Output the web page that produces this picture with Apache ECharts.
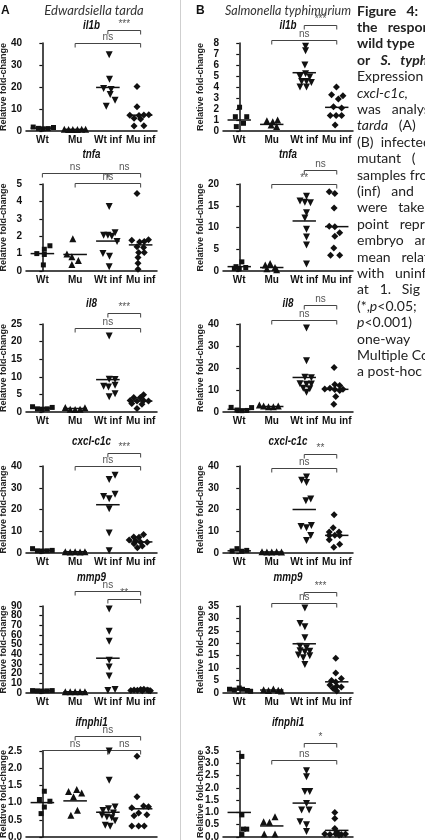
<!DOCTYPE html>
<html>
<head>
<meta charset="utf-8">
<script src="https://cdn.jsdelivr.net/npm/echarts@6/dist/echarts.min.js"></script>
<style>
  html, body { margin: 0; padding: 0; background: #fff; overflow: hidden; }
  #main { width: 425px; height: 840px; }
</style>
</head>
<body>
<div id="main"></div>
<script>
var groups = ['Wt', 'Mu', 'Wt inf', 'Mu inf'];
var genes = ['il1b', 'tnfa', 'il8', 'cxcl-c1c', 'mmp9', 'ifnphi1'];

// each point: [horizontal jitter from group centre, relative fold-change]
// column A - Edwardsiella tarda
var tardaIl1b = [
  [[-0.28, 1.8], [-0.12, 1.2], [0.03, 1.0], [0.18, 1.1], [0.34, 1.6]],
  [[-0.33, 0.8], [-0.2, 0.7], [-0.07, 0.7], [0.07, 0.7], [0.2, 0.8], [0.32, 0.8]],
  [[0.04, 34.7], [0.05, 23.5], [-0.13, 19.3], [0.1, 18.9], [0.07, 16.6], [0.22, 14], [-0.05, 11.3]],
  [[-0.11, 20.2], [-0.11, 11], [-0.33, 7.2], [-0.05, 7.0], [0.1, 7.3], [0.25, 7.4], [-0.2, 5.8], [0.0, 5.5], [-0.2, 2.3], [0.1, 2.4]]
];
var tardaTnfa = [
  [[0.23, 1.45], [0.06, 1.25], [-0.17, 1.0], [0.06, 0.95], [0.03, 0.35]],
  [[-0.07, 1.86], [-0.25, 0.97], [-0.1, 0.82], [0.1, 0.6], [-0.1, 0.38]],
  [[0.04, 3.7], [-0.13, 2.05], [0, 2.05], [0.12, 2.0], [0.22, 2.2], [0.28, 1.7], [-0.15, 1.0], [0.05, 0.85], [0.04, 0.25]],
  [[-0.11, 4.45], [-0.27, 1.77], [-0.03, 1.67], [0.11, 1.7], [0.24, 1.8], [-0.11, 1.4], [0.09, 1.35], [-0.06, 1.06], [0.11, 1.06], [-0.08, 0.78], [-0.08, 0.44], [-0.08, 0.1]]
];
var tardaIl8 = [
  [[-0.3, 1.5], [-0.15, 0.9], [0, 0.8], [0.15, 0.9], [0.3, 1.3]],
  [[-0.3, 1.3], [-0.15, 0.8], [0, 0.7], [0.15, 0.8], [0.3, 1.2]],
  [[0.04, 21.6], [0.04, 9.3], [0.22, 9.2], [-0.13, 7.3], [0.02, 7.1], [0.22, 7.6], [0.22, 5.2], [0.04, 4.3]],
  [[0.09, 4.9], [-0.21, 4.1], [-0.01, 4.1], [-0.32, 3.3], [-0.11, 3.1], [0.09, 3.3], [0.24, 3.1], [-0.27, 2.4], [0.04, 2.2], [-0.11, 1.0]]
];
var tardaCxcl = [
  [[-0.3, 2.0], [-0.15, 1.0], [0, 0.9], [0.15, 1.0], [0.3, 1.2]],
  [[-0.3, 0.6], [-0.15, 0.5], [0, 0.6], [0.15, 0.5], [0.3, 0.6]],
  [[0.22, 35.7], [0.04, 33.8], [-0.13, 26], [0.04, 25], [0.22, 27], [0.04, 20.3], [0.04, 9.2], [0.04, 1.0]],
  [[0.09, 8.5], [-0.21, 7.4], [-0.05, 7.2], [-0.35, 6.0], [-0.15, 5.6], [0, 4.9], [0.2, 5.0], [-0.2, 4.2], [0.05, 3.2], [-0.1, 2.4]]
];
var tardaMmp9 = [
  [[-0.3, 2.5], [-0.15, 2.2], [0, 2.0], [0.15, 2.2], [0.3, 2.5]],
  [[-0.3, 1.4], [-0.15, 1.2], [0, 1.3], [0.15, 1.2], [0.3, 1.4]],
  [[0.04, 87], [0.04, 64], [0.04, 53.5], [0.04, 34], [0.04, 27], [0.04, 17.5], [0.0, 2.5], [0.22, 3.5]],
  [[-0.3, 2.5], [-0.2, 3.2], [-0.1, 2.8], [0, 3.5], [0.05, 2.2], [0.1, 4], [0.2, 3.0], [0.25, 2.5], [0.3, 2.2]]
];
var tardaIfnphi1 = [
  [[0.06, 1.33], [-0.09, 1.09], [0.23, 1.04], [0.06, 0.87], [-0.04, 0.68]],
  [[-0.2, 1.32], [0.05, 1.38], [-0.05, 1.17], [0.2, 1.28], [0.07, 0.78], [-0.13, 0.63]],
  [[0.04, 2.5], [0.04, 1.65], [0.22, 0.87], [0.02, 0.82], [-0.15, 0.77], [0.17, 0.7], [-0.18, 0.63], [-0.03, 0.58], [0.12, 0.56], [0.22, 0.47], [-0.08, 0.34], [0.07, 0.31]],
  [[-0.11, 2.35], [-0.11, 1.17], [-0.27, 0.85], [0.09, 0.9], [0.24, 0.88], [-0.06, 0.7], [0.19, 0.65], [-0.2, 0.62], [-0.27, 0.32], [-0.06, 0.32], [0.11, 0.32]]
];

// column B - Salmonella typhimurium
var typhiIl1b = [
  [[0.01, 2.16], [-0.12, 1.3], [0.23, 1.3], [0.13, 0.7], [-0.09, 0.4]],
  [[-0.15, 0.94], [0.03, 0.85], [0.18, 1.0], [-0.02, 0.55], [0.15, 0.4]],
  [[0.04, 7.7], [0.04, 7.3], [0.02, 6.0], [0.04, 5.2], [-0.13, 4.95], [0.17, 4.9], [-0.08, 4.5], [0.07, 4.5], [0.22, 4.4], [-0.13, 4.0], [0.07, 4.0]],
  [[-0.01, 4.0], [-0.16, 3.3], [0.19, 3.2], [-0.1, 2.2], [0.15, 2.1], [-0.2, 1.4], [-0.02, 1.4], [0.15, 1.4], [-0.05, 0.55], [0.05, 2.9]]
];
var typhiTnfa = [
  [[0.08, 2.1], [-0.1, 1.0], [0.2, 0.8], [0.0, 0.5], [-0.15, 0.6]],
  [[-0.05, 1.75], [-0.2, 1.4], [0.1, 0.8], [-0.15, 0.5], [0.15, 0.3]],
  [[0.07, 17.2], [-0.13, 16.1], [0.02, 15.8], [0.19, 15.7], [0.07, 13.4], [0.02, 12.2], [0.07, 9.6], [0.07, 7.8], [0.07, 6.0], [0.07, 1.6]],
  [[-0.23, 18.2], [-0.06, 17.8], [-0.08, 14.5], [-0.23, 10.3], [-0.06, 10.2], [0.09, 8.8], [-0.06, 8.0], [-0.09, 5.3], [-0.19, 3.6], [0.09, 3.6]]
];
var typhiIl8 = [
  [[-0.25, 2.1], [-0.07, 0.9], [0.08, 0.6], [0.23, 0.7], [0.38, 2.0]],
  [[-0.38, 3.2], [-0.25, 2.7], [-0.1, 2.4], [0.05, 2.4], [0.2, 2.7]],
  [[0.07, 38.2], [0.07, 23.3], [0.02, 15.8], [0.22, 15.6], [-0.13, 12.8], [0.07, 12.6], [0.22, 12.7], [-0.03, 10.8], [0.17, 10.6], [0.07, 9.0]],
  [[-0.08, 20.2], [-0.06, 12.5], [0.09, 12], [-0.21, 10.8], [-0.37, 10.4], [0.19, 10.3], [-0.06, 10.2], [0.09, 9.8], [-0.03, 7.0], [-0.09, 3.5]]
];
var typhiCxcl = [
  [[-0.07, 2.0], [-0.22, 0.9], [0.08, 0.8], [0.23, 1.2]],
  [[-0.3, 0.6], [-0.15, 0.5], [0, 0.5], [0.15, 0.6], [0.3, 0.5]],
  [[0.07, 35], [-0.08, 33.5], [0.07, 32.4], [0.05, 24], [0.2, 24.8], [-0.1, 12.2], [0.07, 11.6], [0.22, 12.6], [0.2, 8.1], [0.07, 5.8]],
  [[-0.08, 17.6], [-0.11, 11.6], [-0.23, 9.6], [0.07, 9.6], [-0.23, 8.1], [-0.06, 8.2], [0.09, 8.0], [-0.23, 6.1], [0.09, 4.0], [-0.09, 2.7]]
];
var typhiMmp9 = [
  [[-0.3, 1.5], [-0.15, 1.2], [0, 2.0], [0.1, 1.5], [0.25, 1.0], [0.35, 0.7]],
  [[-0.25, 1.3], [-0.1, 1.0], [0.05, 1.6], [0.2, 1.1], [0.3, 0.8]],
  [[0.02, 34.2], [-0.13, 28], [0.02, 26.7], [0.02, 22.2], [-0.13, 18.8], [0.07, 18.2], [-0.13, 17], [0.02, 16.5], [0.17, 16.8], [-0.18, 15.3], [-0.03, 14.2], [0.17, 15], [0.02, 11.5]],
  [[-0.03, 14], [-0.03, 8], [0.14, 5.8], [-0.16, 5], [-0.03, 4.4], [-0.21, 3.2], [0, 2.7], [0.14, 2.4], [-0.11, 1.8], [0, 0.8]]
];
var typhiIfnphi1 = [
  [[0.08, 3.28], [0.08, 0.9], [0.13, 0.32], [0.23, 0.32], [0.08, 0.1]],
  [[-0.25, 0.62], [-0.07, 0.6], [0.1, 0.82], [-0.23, 0.12], [0.1, 0.12]],
  [[0.07, 2.7], [0.07, 2.45], [0.02, 1.85], [0.17, 1.85], [0.07, 1.36], [-0.08, 1.1], [0.15, 1.1], [-0.13, 0.62], [0.07, 0.5], [0.07, 0.22]],
  [[-0.06, 1.0], [-0.06, 0.75], [-0.06, 0.35], [-0.37, 0.12], [-0.21, 0.1], [-0.03, 0.12], [0.14, 0.1], [0.27, 0.12], [0.0, 0.2], [0.07, 0.08]]
];

// group means (horizontal bars)
var tardaMeans = [[1.3, 0.75, 19.8, 7.2], [1.0, 0.95, 1.72, 1.5], [1.1, 1.0, 9.2, 3.1], [1.2, 0.6, 22.2, 5.1], [2.3, 1.3, 36, 3.0], [1.0, 1.05, 0.72, 0.82]];
var typhiMeans = [[1.0, 0.6, 5.3, 2.15], [1.0, 0.8, 11.5, 10.2], [1.2, 2.5, 15.7, 10.3], [1.0, 0.5, 20.0, 8.1], [1.2, 1.2, 19.8, 4.5], [1.0, 0.45, 1.38, 0.27]];

// y axis ranges
var tardaMax = [40, 5, 25, 40, 90, 2.5];
var tardaStep = [10, 1, 5, 10, 10, 0.5];
var typhiMax = [8, 20, 40, 40, 35, 3.5];
var typhiStep = [1, 5, 10, 10, 5, 0.5];

// significance brackets: [from group, to group, height (data units), label]
var tardaBrackets = [
  [[2, 3, 45.7, '***'], [1, 3, 40, 'ns']],
  [[0, 2, 5.65, 'ns'], [2, 3, 5.65, 'ns'], [1, 3, 5.03, 'ns']],
  [[2, 3, 28, '***'], [1, 3, 23.9, 'ns']],
  [[2, 3, 46.2, '***'], [1, 3, 40, 'ns']],
  [[1, 3, 105.6, 'ns'], [2, 3, 97, '**']],
  [[1, 3, 2.93, 'ns'], [0, 2, 2.52, 'ns'], [2, 3, 2.52, 'ns']]
];
var typhiBrackets = [
  [[2, 3, 9.67, '***'], [1, 3, 8.24, 'ns']],
  [[2, 3, 23.3, 'ns'], [1, 3, 20.07, '**']],
  [[2, 3, 48.8, 'ns'], [1, 3, 41.6, 'ns']],
  [[2, 3, 45.3, '**'], [1, 3, 39.2, 'ns']],
  [[2, 3, 40.6, '***'], [1, 3, 36.2, 'ns']],
  [[2, 3, 3.83, '*'], [1, 3, 3.12, 'ns']]
];

var captionLines = [
  '{b|Figure   4:}',
  '{b|the   respon}',
  '{b|wild type}',
  '{b|or   }{bi|S.   typh}',
  'Expression',
  '{i|cxcl-c1c,}',
  'was   analys',
  '{i|tarda}   (A)',
  '(B)  infected',
  'mutant   (',
  'samples fro',
  '(inf)   and',
  'were   taken',
  'point   repr',
  'embryo   an',
  'mean   relat',
  'with   uninf',
  'at   1.   Sig',
  '(*,{i|p}<0.05;',
  '{i|p}<0.001)',
  'one-way',
  'Multiple Co',
  'a post-hoc'
];

// ---- layout ----
var columns = [
  { left: 26, width: 131, points: [tardaIl1b, tardaTnfa, tardaIl8, tardaCxcl, tardaMmp9, tardaIfnphi1],
    means: tardaMeans, max: tardaMax, step: tardaStep, brackets: tardaBrackets },
  { left: 223, width: 130, points: [typhiIl1b, typhiTnfa, typhiIl8, typhiCxcl, typhiMmp9, typhiIfnphi1],
    means: typhiMeans, max: typhiMax, step: typhiStep, brackets: typhiBrackets }
];
var rowTop = [43, 184, 324, 466, 606, 751];
var rowBottom = [131, 271, 412, 553, 693, 837];
var titleY = [26, 155, 304, 442, 578, 723];

var symbols = [
  { symbol: 'rect', size: 5, rotate: 0 },
  { symbol: 'triangle', size: 7, rotate: 0 },
  { symbol: 'triangle', size: 7, rotate: 180 },
  { symbol: 'diamond', size: 7, rotate: 0 }
];
var ink = '#111';
var fam = '"Liberation Sans", Arial, sans-serif';
var tickFont = { color: ink, fontWeight: 'bold', fontSize: 10, fontFamily: fam };

function meanRenderer(params, api) {
  var i = api.value(0), m = api.value(1);
  var a = api.coord([i - 0.36, m]), b = api.coord([i + 0.36, m]);
  return { type: 'line', shape: { x1: a[0], y1: a[1], x2: b[0], y2: b[1] },
    style: { stroke: ink, lineWidth: 1.5 } };
}

function bracketRenderer(list) {
  return function (params, api) {
    var b = list[params.dataIndex];
    var p1 = api.coord([b[0], b[2]]), p2 = api.coord([b[1], b[2]]);
    var y = Math.round(p1[1]) + 0.5;
    return { type: 'group', children: [
      { type: 'polyline', shape: { points: [[p1[0], y + 4], [p1[0], y], [p2[0], y], [p2[0], y + 4]] },
        style: { stroke: '#444', lineWidth: 1, fill: null } },
      { type: 'text', x: (p1[0] + p2[0]) / 2, y: y - 1,
        style: { text: b[3], textAlign: 'center', textVerticalAlign: 'bottom',
          fill: '#555', font: '10px ' + fam } }
    ] };
  };
}

var grids = [], xAxes = [], yAxes = [], extraY = [], series = [], graphics = [];

columns.forEach(function (col, c) {
  for (var r = 0; r < 6; r++) {
    var g = c * 6 + r;
    var h = rowBottom[r] - rowTop[r];
    grids.push({ left: col.left, width: col.width, top: rowTop[r], height: h,
      containLabel: false, outerBoundsMode: 'none' });
    xAxes.push({ type: 'category', gridIndex: g, data: groups,
      axisLine: { lineStyle: { color: ink, width: 1.5 } }, axisTick: { show: false },
      axisLabel: Object.assign({ margin: 4, interval: 0 }, tickFont),
      splitLine: { show: false } });
    xAxes.push({ type: 'value', gridIndex: g, min: -0.5, max: 3.5, show: false });

    var step = col.step[r], max = col.max[r], dec = step < 1;
    var fmt = dec ? function (v) { return v.toFixed(1); } : function (v) { return String(v); };
    var ticks = [];
    for (var t = 0; t * step <= max + 1e-9; t++) ticks.push(Math.round(t * step * 100) / 100);
    // crowded axes: every other label goes on an overlay axis so none gets hidden
    var crowded = h / (ticks.length - 1) < 10.5;
    var mainLabel = Object.assign({ margin: 4, showMinLabel: true, showMaxLabel: true, formatter: fmt }, tickFont);
    if (crowded) {
      mainLabel.customValues = ticks.filter(function (v, i) { return i % 2 === 0; });
      extraY.push({ type: 'value', gridIndex: g, position: 'left', min: 0, max: max,
        axisLine: { show: false }, axisTick: { show: false }, splitLine: { show: false },
        axisLabel: Object.assign({ margin: 4, formatter: fmt,
          customValues: ticks.filter(function (v, i) { return i % 2 === 1; }) }, tickFont) });
    }
    yAxes.push({ type: 'value', gridIndex: g, position: 'left', min: 0, max: max, interval: step,
      axisLine: { show: true, lineStyle: { color: ink, width: 1.5 } },
      axisTick: { show: true, length: 3, lineStyle: { color: ink, width: 1.2 } },
      axisLabel: mainLabel,
      splitLine: { show: false },
      name: 'Relative fold-change', nameLocation: 'middle', nameGap: 18, nameMoveOverlap: false,
      nameTextStyle: { color: '#222', fontWeight: 'bold', fontSize: 9, fontFamily: fam } });

    col.points[r].forEach(function (pts, k) {
      series.push({ type: 'scatter', xAxisIndex: 2 * g + 1, yAxisIndex: g, silent: true,
        symbol: symbols[k].symbol, symbolSize: symbols[k].size, symbolRotate: symbols[k].rotate,
        itemStyle: { color: ink, opacity: 1 },
        data: pts.map(function (p) { return [k + p[0], p[1]]; }) });
    });
    series.push({ type: 'custom', xAxisIndex: 2 * g + 1, yAxisIndex: g, silent: true, clip: false,
      renderItem: meanRenderer,
      data: col.means[r].map(function (m, k) { return [k, m]; }) });
    var br = col.brackets[r];
    series.push({ type: 'custom', xAxisIndex: 2 * g + 1, yAxisIndex: g, silent: true, clip: false,
      renderItem: bracketRenderer(br),
      data: br.map(function (b) { return [(b[0] + b[1]) / 2, b[2]]; }) });

    graphics.push({ type: 'text', x: col.left + col.width / 2, y: titleY[r], scaleX: 0.82, silent: true,
      style: { text: genes[r], textAlign: 'center', textVerticalAlign: 'middle', fill: ink,
        font: 'italic bold 12px ' + fam } });
  }
});

graphics.push({ type: 'line', shape: { x1: 180.5, y1: 0, x2: 180.5, y2: 840 }, silent: true,
  style: { stroke: '#cfcfcf', lineWidth: 1 } });
graphics.push({ type: 'text', x: 1, y: 11, silent: true,
  style: { text: 'A', textAlign: 'left', textVerticalAlign: 'middle', fill: ink, font: 'bold 12px ' + fam } });
graphics.push({ type: 'text', x: 196, y: 11, silent: true,
  style: { text: 'B', textAlign: 'left', textVerticalAlign: 'middle', fill: ink, font: 'bold 12px ' + fam } });
graphics.push({ type: 'text', x: 94, y: 11, silent: true,
  style: { text: 'Edwardsiella tarda', textAlign: 'center', textVerticalAlign: 'middle', fill: '#333',
    font: 'italic 13px Lato, sans-serif' } });
graphics.push({ type: 'text', x: 288, y: 11, silent: true,
  style: { text: 'Salmonella typhimurium', textAlign: 'center', textVerticalAlign: 'middle', fill: '#333',
    font: 'italic 12.5px Lato, sans-serif' } });

captionLines.forEach(function (line, i) {
  graphics.push({ type: 'text', x: 357, y: 11 + i * 16.4, silent: true,
    style: { text: line, textAlign: 'left', textVerticalAlign: 'middle', fill: '#222',
      font: '14px Lato, sans-serif',
      rich: {
        b: { font: 'bold 14px Lato, sans-serif' },
        i: { font: 'italic 14px Lato, sans-serif' },
        bi: { font: 'italic bold 14px Lato, sans-serif' }
      } } });
});

var myChart = echarts.init(document.getElementById('main'), null, { renderer: 'canvas' });
myChart.setOption({
  animation: false,
  backgroundColor: '#fff',
  grid: grids,
  xAxis: xAxes,
  yAxis: yAxes.concat(extraY),
  series: series,
  graphic: graphics
});
</script>
</body>
</html>
